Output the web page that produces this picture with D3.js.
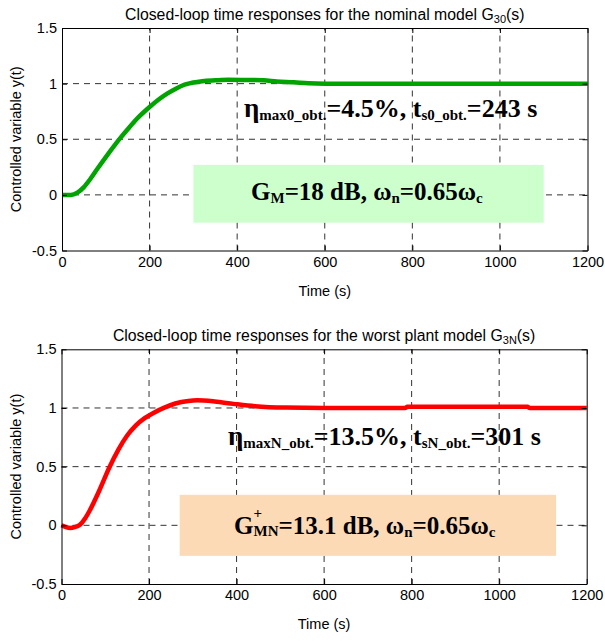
<!DOCTYPE html>
<html><head><meta charset="utf-8">
<script src="https://cdn.jsdelivr.net/npm/d3@7"></script>
<style>body{margin:0;background:#fff}svg{display:block}</style>
</head><body>
<svg id="c" width="605" height="641"></svg>
<script>
// ---- data ----
const xTicks = [0, 200, 400, 600, 800, 1000, 1200];
const xTickLabels = ["0", "200", "400", "600", "800", "1000", "1200"];
const yTicks = [-0.5, 0, 0.5, 1, 1.5];
const yTickLabels = ["-0.5", "0", "0.5", "1", "1.5"];

const tNominal = [0, 20, 35, 50, 65, 80, 100, 120, 132, 150, 170, 200, 220, 240, 260, 280, 300, 320, 350, 380, 420, 460, 490, 530, 563, 600, 800, 1000, 1200];
const yNominal = [0, 0, 0.02, 0.07, 0.145, 0.23, 0.34, 0.445, 0.505, 0.59, 0.68, 0.79, 0.855, 0.91, 0.955, 0.99, 1.01, 1.022, 1.03, 1.035, 1.033, 1.03, 1.02, 1.012, 1.003, 1.0, 1.0, 1.0, 1.0];

const tWorst = [0, 10, 20, 30, 42, 55, 65, 88, 109, 130, 150, 170, 190, 210, 235, 260, 290, 310, 350, 393, 442, 512, 600, 785, 790, 900, 1065, 1070, 1200];
const yWorst = [0, -0.015, -0.022, -0.015, 0.005, 0.065, 0.13, 0.31, 0.49, 0.645, 0.765, 0.852, 0.913, 0.958, 1.003, 1.038, 1.06, 1.065, 1.055, 1.035, 1.015, 1.003, 1.0, 1.0, 1.01, 1.01, 1.01, 1.0, 1.0];

const titles = ["Closed-loop time responses for the nominal model G", "Closed-loop time responses for the worst plant model G"];
const titleSubs = ["30", "3N"];
const xLabel = "Time (s)";
const yLabel = "Controlled variable y(t)";

// ---- drawing ----
const svg = d3.select("#c");
const sans = "'Liberation Sans', Arial, Helvetica, sans-serif";
const serif = "'Liberation Serif', 'Times New Roman', serif";

const panels = [
  {x0: 62, x1: 587.5, y0: 250.5, y1: 28, t: tNominal, y: yNominal, color: "#00A400",
   box: {t0: 300, t1: 1100, v0: -0.25, v1: 0.27, fill: "#CCFFCC"}},
  {x0: 61.5, x1: 586.7, y0: 584, y1: 349.3, t: tWorst, y: yWorst, color: "#FF0000",
   box: {t0: 270, t1: 1130, v0: -0.26, v1: 0.26, fill: "#FDDAB6"}}
];

panels.forEach((p, i) => {
  const x = d3.scaleLinear().domain([0, 1200]).range([p.x0, p.x1]);
  const y = d3.scaleLinear().domain([-0.5, 1.5]).range([p.y0, p.y1]);
  const g = svg.append("g");

  // grid
  g.selectAll(".vg").data(xTicks.slice(1, -1)).join("line")
    .attr("x1", d => x(d)).attr("x2", d => x(d)).attr("y1", p.y0).attr("y2", p.y1)
    .attr("stroke", "#333").attr("stroke-width", 1).attr("stroke-dasharray", "6,5");
  g.selectAll(".hg").data(yTicks.slice(1, -1)).join("line")
    .attr("x1", p.x0).attr("x2", p.x1).attr("y1", d => y(d)).attr("y2", d => y(d))
    .attr("stroke", "#333").attr("stroke-width", 1).attr("stroke-dasharray", "6,5");

  // annotation box
  g.append("rect").attr("x", x(p.box.t0)).attr("y", y(p.box.v1))
    .attr("width", x(p.box.t1) - x(p.box.t0)).attr("height", y(p.box.v0) - y(p.box.v1))
    .attr("fill", p.box.fill);

  // curve
  const line = d3.line().x((d, k) => x(p.t[k])).y(d => y(d)).curve(d3.curveMonotoneX);
  g.append("path").datum(p.y).attr("d", line).attr("fill", "none")
    .attr("stroke", p.color).attr("stroke-width", 4.5).attr("stroke-linejoin", "round");

  // axes
  const ax = (sel) => { sel.selectAll("text").attr("font-family", sans).attr("font-size", 14.5).attr("fill", "#000");
                        sel.selectAll("line").attr("stroke", "#000"); sel.select(".domain").attr("stroke", "#000"); };
  g.append("g").attr("transform", `translate(0,${p.y0})`)
    .call(d3.axisBottom(x).tickValues(xTicks).tickFormat((d, k) => xTickLabels[k]).tickSize(-5).tickSizeOuter(0).tickPadding(6)).call(ax);
  g.append("g").attr("transform", `translate(0,${p.y1})`)
    .call(d3.axisTop(x).tickValues(xTicks).tickFormat("").tickSize(-5).tickSizeOuter(0)).call(ax);
  g.append("g").attr("transform", `translate(${p.x0},0)`)
    .call(d3.axisLeft(y).tickValues(yTicks).tickFormat((d, k) => yTickLabels[k]).tickSize(-5).tickSizeOuter(0).tickPadding(5)).call(ax);
  g.append("g").attr("transform", `translate(${p.x1},0)`)
    .call(d3.axisRight(y).tickValues(yTicks).tickFormat("").tickSize(-5).tickSizeOuter(0)).call(ax);

  // title
  const cx = (p.x0 + p.x1) / 2;
  const tt = svg.append("text").attr("x", cx).attr("y", p.y1 - 8).attr("text-anchor", "middle")
    .attr("font-family", sans).attr("font-size", 15.8).attr("fill", "#000");
  tt.append("tspan").text(titles[i]);
  tt.append("tspan").attr("font-size", 11).attr("dy", 3).text(titleSubs[i]);
  tt.append("tspan").attr("dy", -3).text("(s)");

  // x label
  svg.append("text").attr("x", cx).attr("y", p.y0 + 45).attr("text-anchor", "middle")
    .attr("font-family", sans).attr("font-size", 14.5).text(xLabel);
  // y label
  svg.append("text").attr("transform", `translate(21,${(p.y0 + p.y1) / 2}) rotate(-90)`)
    .attr("text-anchor", "middle").attr("font-family", sans).attr("font-size", 14.5).text(yLabel);
});

// annotations
function ann(xp, yp, parts) {
  const t = svg.append("text").attr("x", xp).attr("y", yp)
    .attr("font-family", serif).attr("font-weight", "bold").attr("fill", "#000");
  parts.forEach(pt => {
    const s = t.append("tspan").attr("font-size", pt[1]).text(pt[0]);
    if (pt[2]) s.attr("dy", pt[2]);
    if (pt[3]) s.attr("dx", pt[3]);
  });
  return t;
}
ann(244, 116.7, [["η", 27], ["max0_obt.", 15, 3], ["=4.5%, t", 26, -3], ["s0_obt.", 15, 3], ["=243 s", 26, -3]]);
ann(251, 199.5, [["G", 25], ["M", 15, 3], ["=18 dB, ω", 25, -3], ["n", 15, 3], ["=0.65ω", 25, -3], ["c", 15, 3]]);
ann(228, 445, [["η", 27], ["maxN_obt.", 15, 3], ["=13.5%, t", 26, -3], ["sN_obt.", 15, 3], ["=301 s", 26, -3]]);
ann(234, 534, [["G", 25], ["+", 15, -16], ["MN", 15, 18, -8.5], ["=13.1 dB, ω", 25, -2], ["n", 15, 3], ["=0.65ω", 25, -3], ["c", 15, 3]]);
</script>
</body></html>
